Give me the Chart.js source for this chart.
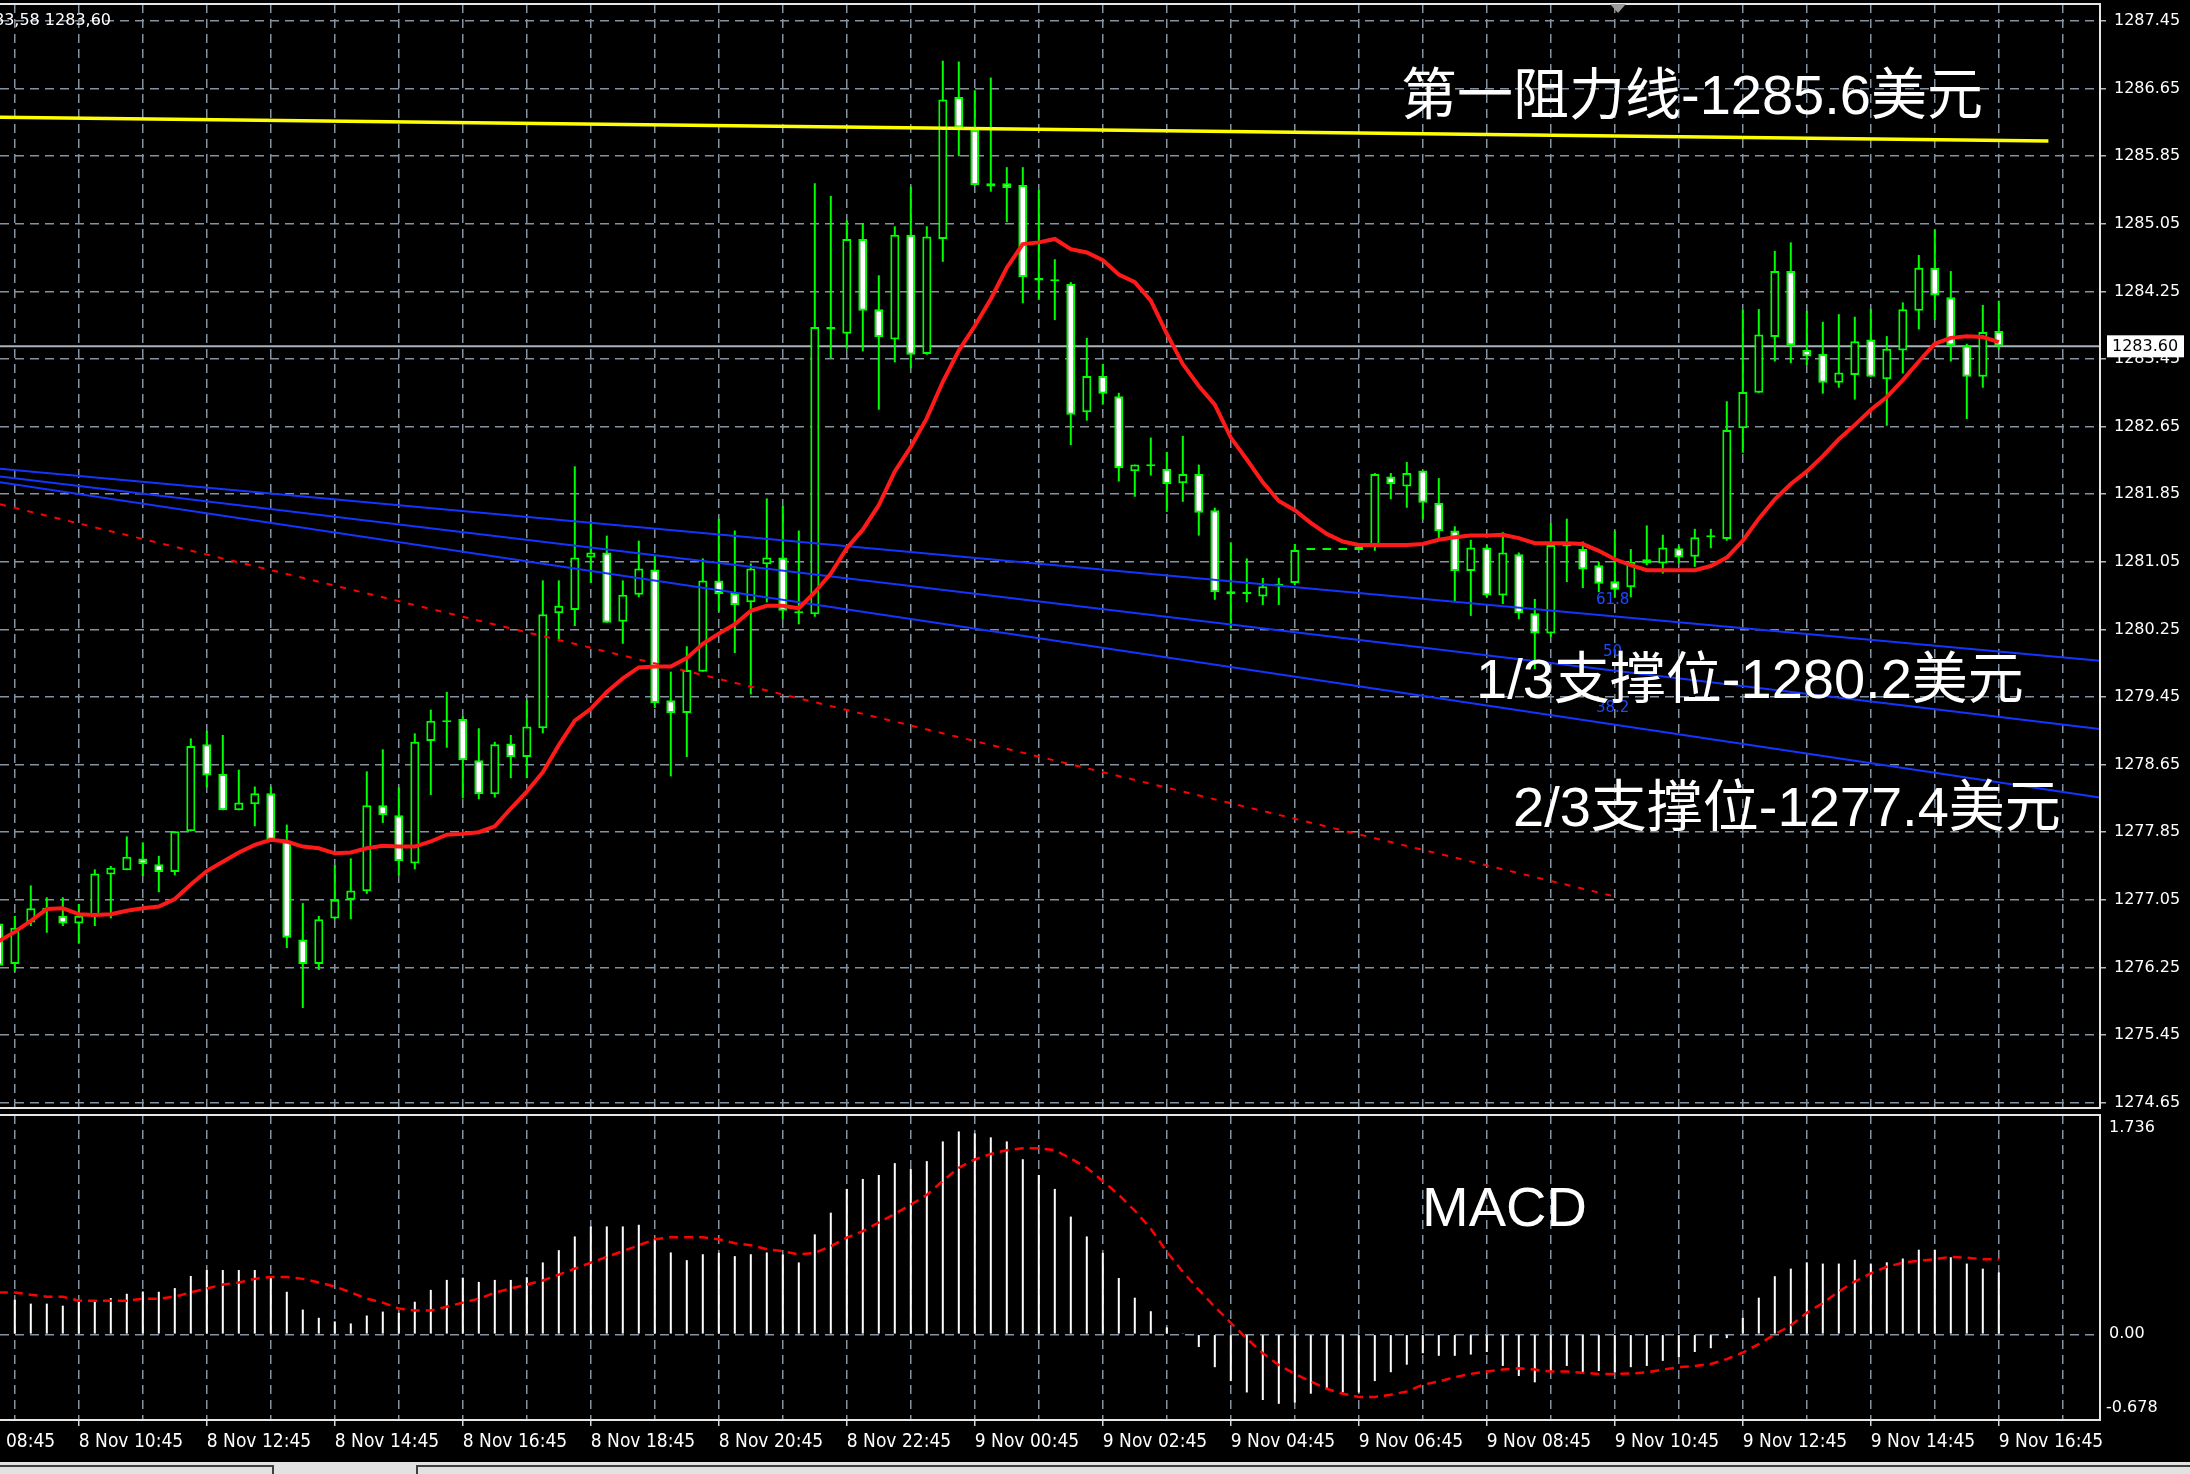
<!DOCTYPE html>
<html>
<head>
<meta charset="utf-8">
<title>XAUUSD M15</title>
<script src="https://cdn.jsdelivr.net/npm/chart.js@4.4.0/dist/chart.umd.min.js"></script>
<style>
  html, body { margin: 0; padding: 0; background: #000; width: 2190px; height: 1474px; overflow: hidden; }
  #priceChart { position: absolute; left: 0; top: 0; }
  #macdChart { position: absolute; left: 0; top: 1110px; }
</style>
</head>
<body>
<canvas id="priceChart" width="2190" height="1112"></canvas>
<canvas id="macdChart" width="2190" height="364"></canvas>
<script>
// 15 minute candles, index 0 = 8 Nov 09:30, index 125 = 9 Nov 16:45
const opens = [1276.77,1276.29,1276.78,1276.93,1276.86,1276.77,1276.86,1277.35,1277.40,1277.54,
  1277.47,1277.38,1277.86,1278.89,1278.54,1278.11,1278.18,1278.31,1277.74,1276.58,
  1276.29,1276.83,1277.05,1277.15,1278.17,1278.05,1277.48,1278.93,1279.15,1279.19,
  1278.70,1278.30,1278.90,1278.74,1279.08,1280.44,1280.48,1281.10,1281.16,1280.34,
  1280.66,1280.96,1279.41,1279.26,1279.75,1280.83,1280.68,1280.57,1281.02,1281.10,
  1280.44,1280.43,1283.83,1283.75,1284.87,1284.04,1283.68,1284.92,1283.51,1284.87,
  1286.55,1286.16,1285.49,1285.53,1285.51,1284.41,1284.37,1284.34,1282.82,1283.25,
  1283.01,1282.12,1282.18,1282.15,1281.98,1282.09,1281.66,1280.70,1280.67,1280.64,
  1280.76,1280.80,1281.19,1281.19,1281.19,1281.19,1281.25,1282.06,1281.94,1282.13,
  1281.75,1281.42,1280.94,1281.22,1280.65,1281.14,1280.44,1280.20,1281.23,1281.20,
  1281.01,1280.82,1280.75,1281.08,1281.03,1281.21,1281.11,1281.34,1281.32,1282.63,
  1283.05,1283.71,1284.49,1283.56,1283.51,1283.17,1283.26,1283.68,1283.21,1283.55,
  1284.02,1284.53,1284.18,1283.61,1283.24,1283.78];
const highs = [1276.82,1276.86,1277.22,1277.08,1277.08,1277.00,1277.41,1277.45,1277.80,1277.73,
  1277.57,1277.86,1278.96,1279.05,1279.00,1278.59,1278.39,1278.39,1277.94,1277.01,
  1276.86,1277.46,1277.54,1278.57,1278.83,1278.38,1279.02,1279.30,1279.51,1279.22,
  1279.08,1278.92,1279.00,1279.41,1280.83,1280.83,1282.18,1281.53,1281.36,1280.83,
  1281.30,1281.13,1279.75,1280.05,1281.09,1281.56,1281.42,1281.03,1281.80,1281.71,
  1281.42,1285.53,1285.38,1285.09,1285.06,1284.44,1285.02,1285.49,1285.02,1286.98,
  1286.97,1286.63,1286.78,1285.72,1285.72,1285.45,1284.63,1284.36,1283.70,1283.39,
  1283.05,1282.20,1282.52,1282.35,1282.54,1282.20,1281.69,1281.28,1281.09,1280.86,
  1280.86,1281.26,1281.19,1281.19,1281.19,1281.23,1282.10,1282.10,1282.23,1282.13,
  1282.04,1281.47,1281.31,1281.25,1281.40,1281.16,1280.61,1281.51,1281.56,1281.29,
  1281.05,1281.42,1281.20,1281.48,1281.37,1281.24,1281.44,1281.44,1282.95,1284.03,
  1284.04,1284.73,1284.83,1284.02,1283.89,1283.98,1283.95,1284.04,1283.72,1284.12,
  1284.68,1284.98,1284.49,1283.63,1284.09,1284.14];
const lows = [1276.14,1276.20,1276.74,1276.66,1276.74,1276.53,1276.74,1276.83,1277.40,1277.33,
  1277.14,1277.34,1277.86,1278.38,1278.11,1278.11,1277.92,1277.76,1276.48,1275.77,
  1276.22,1276.82,1276.82,1277.12,1277.96,1277.34,1277.41,1278.29,1278.85,1278.25,
  1278.24,1278.26,1278.49,1278.49,1279.02,1280.11,1280.29,1280.80,1280.33,1280.08,
  1280.63,1279.32,1278.51,1278.74,1279.75,1280.46,1279.97,1279.48,1280.57,1280.37,
  1280.31,1280.40,1283.46,1283.57,1283.54,1282.85,1283.41,1283.34,1283.50,1284.60,
  1285.85,1285.50,1285.43,1285.07,1284.11,1284.15,1283.91,1282.43,1282.72,1282.91,
  1282.00,1281.82,1282.07,1281.64,1281.76,1281.36,1280.60,1280.26,1280.57,1280.54,
  1280.54,1280.77,1281.19,1281.19,1281.19,1281.19,1281.18,1281.79,1281.69,1281.55,
  1281.33,1280.57,1280.41,1280.63,1280.55,1280.37,1279.78,1280.16,1280.81,1280.74,
  1280.69,1280.63,1280.63,1281.01,1280.91,1281.03,1280.99,1281.21,1281.30,1282.34,
  1283.05,1283.42,1283.40,1283.38,1283.04,1283.11,1282.97,1283.24,1282.66,1283.28,
  1283.80,1283.91,1283.42,1282.74,1283.11,1283.56];
const closes = [1276.27,1276.72,1276.95,1276.95,1276.77,1276.86,1277.36,1277.43,1277.56,1277.47,
  1277.38,1277.86,1278.87,1278.52,1278.11,1278.20,1278.31,1277.76,1276.60,1276.29,
  1276.82,1277.05,1277.16,1278.17,1278.05,1277.51,1278.92,1279.17,1279.16,1278.70,
  1278.30,1278.89,1278.74,1279.10,1280.43,1280.53,1281.10,1281.16,1280.33,1280.66,
  1280.97,1279.38,1279.26,1279.77,1280.83,1280.67,1280.54,1280.97,1281.10,1280.47,
  1280.45,1283.83,1283.80,1284.87,1284.02,1283.71,1284.92,1283.50,1284.90,1286.52,
  1286.19,1285.51,1285.53,1285.47,1284.42,1284.38,1284.38,1282.79,1283.25,1283.04,
  1282.16,1282.20,1282.19,1281.97,1282.09,1281.63,1280.69,1280.67,1280.68,1280.76,
  1280.79,1281.19,1281.19,1281.19,1281.19,1281.23,1282.09,1281.97,1282.10,1281.75,
  1281.41,1280.94,1281.22,1280.65,1281.16,1280.44,1280.20,1281.25,1281.25,1280.96,
  1280.79,1280.72,1281.05,1281.03,1281.22,1281.10,1281.34,1281.35,1282.61,1283.06,
  1283.74,1284.49,1283.61,1283.48,1283.17,1283.29,1283.66,1283.24,1283.57,1284.04,
  1284.53,1284.20,1283.61,1283.24,1283.77,1283.60];

// red moving average
const maValues = [1276.56,1276.67,1276.80,1276.94,1276.95,1276.88,1276.87,1276.88,1276.92,1276.95,
  1276.97,1277.06,1277.23,1277.39,1277.50,1277.61,1277.70,1277.76,1277.74,1277.68,
  1277.66,1277.60,1277.61,1277.66,1277.69,1277.68,1277.68,1277.74,1277.82,1277.83,
  1277.85,1277.92,1278.13,1278.33,1278.56,1278.88,1279.17,1279.31,1279.51,1279.67,
  1279.80,1279.81,1279.81,1279.91,1280.08,1280.20,1280.31,1280.47,1280.53,1280.53,
  1280.50,1280.69,1280.91,1281.21,1281.43,1281.72,1282.12,1282.41,1282.75,1283.18,
  1283.55,1283.84,1284.16,1284.53,1284.81,1284.83,1284.87,1284.75,1284.71,1284.62,
  1284.45,1284.36,1284.14,1283.75,1283.39,1283.13,1282.91,1282.52,1282.26,1281.99,
  1281.77,1281.66,1281.51,1281.38,1281.29,1281.25,1281.25,1281.25,1281.25,1281.26,
  1281.31,1281.34,1281.36,1281.36,1281.37,1281.33,1281.27,1281.27,1281.27,1281.26,
  1281.18,1281.08,1281.01,1280.95,1280.95,1280.95,1280.95,1281.00,1281.10,1281.30,
  1281.56,1281.79,1281.97,1282.12,1282.30,1282.50,1282.67,1282.85,1283.00,1283.20,
  1283.42,1283.63,1283.70,1283.72,1283.71,1283.65];

// MACD histogram and signal
const macdHist = [0.243,0.274,0.243,0.243,0.227,0.274,0.261,0.287,0.321,0.339,
  0.337,0.366,0.462,0.509,0.509,0.509,0.509,0.457,0.337,0.196,
  0.131,0.102,0.086,0.149,0.180,0.170,0.258,0.352,0.431,0.449,
  0.415,0.431,0.431,0.452,0.569,0.666,0.775,0.854,0.854,0.854,
  0.867,0.757,0.648,0.587,0.634,0.645,0.619,0.634,0.648,0.632,
  0.569,0.791,0.963,1.151,1.230,1.261,1.355,1.308,1.371,1.527,
  1.606,1.590,1.559,1.527,1.386,1.261,1.151,0.932,0.775,0.645,
  0.446,0.290,0.183,0.055,0.008,-0.10,-0.26,-0.37,-0.46,-0.52,
  -0.55,-0.54,-0.47,-0.43,-0.46,-0.46,-0.37,-0.30,-0.24,-0.15,
  -0.17,-0.17,-0.16,-0.14,-0.25,-0.33,-0.38,-0.29,-0.25,-0.30,
  -0.29,-0.30,-0.26,-0.25,-0.21,-0.18,-0.14,-0.11,-0.03,0.13,
  0.29,0.46,0.52,0.57,0.56,0.56,0.59,0.56,0.57,0.60,
  0.67,0.67,0.61,0.56,0.52,0.49];
const macdSignal = [0.332,0.332,0.313,0.298,0.298,0.266,0.266,0.266,0.266,0.282,
  0.282,0.298,0.332,0.363,0.394,0.410,0.439,0.454,0.454,0.439,
  0.410,0.379,0.332,0.282,0.251,0.204,0.188,0.188,0.219,0.251,
  0.282,0.329,0.363,0.394,0.426,0.473,0.520,0.567,0.614,0.658,
  0.705,0.752,0.768,0.768,0.768,0.752,0.721,0.705,0.674,0.658,
  0.632,0.645,0.697,0.765,0.817,0.885,0.953,1.026,1.104,1.214,
  1.318,1.384,1.428,1.457,1.473,1.473,1.457,1.392,1.318,1.214,
  1.104,0.979,0.836,0.653,0.496,0.352,0.217,0.091,-0.034,-0.149,
  -0.243,-0.313,-0.373,-0.431,-0.470,-0.496,-0.496,-0.478,-0.452,-0.399,
  -0.373,-0.339,-0.313,-0.295,-0.279,-0.269,-0.279,-0.295,-0.295,-0.305,
  -0.313,-0.313,-0.31,-0.30,-0.28,-0.26,-0.25,-0.235,-0.196,-0.144,
  -0.078,0.0,0.07,0.17,0.248,0.339,0.418,0.483,0.535,0.567,
  0.582,0.595,0.614,0.606,0.595,0.595];

// drawn objects: [candle index, price]
const resistLine = [[0.075, 1286.31], [128.1, 1286.03]];
const channelTop = [[0.075, 1282.15], [131.3, 1279.88]];
const channelMid = [[0.075, 1282.06], [131.3, 1279.07]];
const channelLow = [[0.075, 1281.99], [131.3, 1278.26]];
const redTrend = [[0.075, 1281.73], [101.2, 1277.08]];
const lastPrice = 1283.60;

// axes
const priceTicks = [1274.65,1275.45,1276.25,1277.05,1277.85,1278.65,1279.45,1280.25,1281.05,1281.85,
  1282.65,1283.45,1284.25,1285.05,1285.85,1286.65,1287.45];
const labelIdx = [-3,5,13,21,29,37,45,53,61,69,77,85,93,101,109,117,125];
const timeLabels = ['8 Nov 08:45','8 Nov 10:45','8 Nov 12:45','8 Nov 14:45','8 Nov 16:45','8 Nov 18:45',
  '8 Nov 20:45','8 Nov 22:45','9 Nov 00:45','9 Nov 02:45','9 Nov 04:45','9 Nov 06:45','9 Nov 08:45',
  '9 Nov 10:45','9 Nov 12:45','9 Nov 14:45','9 Nov 16:45'];
const macdLabelVals = [1.736, 0, -0.678];
const macdLabels = ['1.736', '0.00', '-0.678'];

const xMin = 0.075;
const xMax = 131.325;
const priceMin = 1274.586;
const priceMax = 1287.651;
const gridColor = '#8593a1';
const green = '#00ff00';
const bigFont = '56px "Liberation Sans", "Noto Sans CJK SC", sans-serif';
const axisFont = '16px "DejaVu Sans", sans-serif';
const timeFontFamily = "'DejaVu Sans Condensed', 'Liberation Sans Narrow', 'DejaVu Sans', sans-serif";

let gridHours = [];
for (let i = 1; i <= 129; i += 4) {
  gridHours.push(i);
}

const toPoints = (arr) => arr.map((p) => ({ x: p[0], y: p[1] }));

const noPadding = (scale) => {
  scale.paddingTop = 0;
  scale.paddingBottom = 0;
};

const priceOverlay = {
  id: "priceOverlay",
  afterDraw(chart) {
    const { ctx, chartArea, scales } = chart;
    ctx.save();
    ctx.strokeStyle = "#e6e6e6";
    ctx.lineWidth = 2;
    ctx.beginPath();
    ctx.moveTo(0, chartArea.top);
    ctx.lineTo(chartArea.right, chartArea.top);
    ctx.lineTo(chartArea.right, chartArea.bottom);
    ctx.lineTo(0, chartArea.bottom);
    ctx.stroke();

    // shift marker
    ctx.fillStyle = "#9a9a9a";
    ctx.beginPath();
    ctx.moveTo(1610, chartArea.top);
    ctx.lineTo(1626, chartArea.top);
    ctx.lineTo(1618, chartArea.top + 9);
    ctx.fill();

    // last price box
    const py = scales.y.getPixelForValue(lastPrice);
    ctx.fillStyle = "#ffffff";
    ctx.fillRect(chartArea.right + 7, py - 11, 77, 22);
    ctx.fillStyle = "#000000";
    ctx.font = axisFont;
    ctx.textBaseline = "middle";
    ctx.textAlign = "left";
    ctx.fillText(lastPrice.toFixed(2), chartArea.right + 12, py + 1);

    // top left info
    ctx.fillStyle = "#ffffff";
    ctx.textAlign = "right";
    ctx.fillText("1283,58 1283,60", 111, 21);

    // fibo levels
    ctx.textAlign = "left";
    ctx.font = '15px "DejaVu Sans", sans-serif';
    ctx.fillStyle = "#2048ff";
    ctx.fillText("61.8", 1596, 600);
    ctx.fillText("50", 1603, 652);
    ctx.fillText("38.2", 1596, 708);

    // annotations
    ctx.font = bigFont;
    ctx.fillStyle = "#ffffff";
    ctx.textBaseline = "alphabetic";
    ctx.fillText("第一阻力线-1285.6美元", 1401, 114);
    ctx.fillText("1/3支撑位-1280.2美元", 1476, 698);
    ctx.fillText("2/3支撑位-1277.4美元", 1513, 826);
    ctx.restore();
  },
};

const macdOverlay = {
  id: "macdOverlay",
  afterDraw(chart) {
    const { ctx, chartArea, scales, height } = chart;
    ctx.save();
    ctx.strokeStyle = "#e6e6e6";
    ctx.lineWidth = 2;
    ctx.beginPath();
    ctx.moveTo(0, chartArea.top);
    ctx.lineTo(chartArea.right, chartArea.top);
    ctx.lineTo(chartArea.right, chartArea.bottom);
    ctx.lineTo(0, chartArea.bottom);
    ctx.stroke();

    ctx.font = bigFont;
    ctx.fillStyle = "#ffffff";
    ctx.fillText("MACD", 1422, 116);

    // first time label sits left of the axis start, only its tail shows
    ctx.font = "19px " + timeFontFamily;
    ctx.textAlign = "left";
    ctx.textBaseline = "middle";
    ctx.fillText(timeLabels[0], scales.x.getPixelForValue(labelIdx[0]), chartArea.bottom + 22);

    ctx.font = axisFont;
    const offsets = [13, 0, -12];
    for (let i = 0; i < macdLabels.length; i++) {
      const y = scales.y.getPixelForValue(macdLabelVals[i]) + offsets[i];
      ctx.fillText(macdLabels[i], chartArea.right + (i === 2 ? 6 : 9), y);
    }

    // tab strip at the bottom
    ctx.fillStyle = "#e2e2e2";
    ctx.fillRect(0, height - 12, 2190, 12);
    ctx.fillStyle = "#404040";
    ctx.fillRect(0, height - 9, 273, 2);
    ctx.fillRect(417, height - 9, 1773, 2);
    ctx.fillRect(272, height - 9, 2, 9);
    ctx.fillRect(416, height - 9, 2, 9);
    ctx.restore();
  },
};

const displayPriceChart = () => {
  const ctx = document.getElementById("priceChart").getContext("2d");
  const idx = opens.map((_, i) => i);
  return new Chart(ctx, {
    type: "bar",
    data: {
      datasets: [
        { type: "line", data: idx.map((i) => ({ x: i, y: maValues[i] })), borderColor: "#ff1a1a", borderWidth: 4, pointRadius: 0, tension: 0, order: 0 },
        { type: "line", data: toPoints(resistLine), borderColor: "#ffff00", borderWidth: 3.5, pointRadius: 0, order: 1 },
        { type: "line", data: toPoints(channelTop), borderColor: "#1535ff", borderWidth: 2, pointRadius: 0, order: 1 },
        { type: "line", data: toPoints(channelMid), borderColor: "#1535ff", borderWidth: 2, pointRadius: 0, order: 1 },
        { type: "line", data: toPoints(channelLow), borderColor: "#1535ff", borderWidth: 2, pointRadius: 0, order: 1 },
        { type: "line", data: toPoints(redTrend), borderColor: "#ff0000", borderWidth: 2, borderDash: [6, 8], pointRadius: 0, order: 1 },
        {
          type: "bar",
          data: idx.map((i) => ({ x: i, y: [opens[i], closes[i]] })),
          backgroundColor: idx.map((i) => (closes[i] >= opens[i] ? "#000000" : "#ffffff")),
          borderColor: green,
          borderWidth: 2,
          borderSkipped: false,
          barThickness: 9,
          minBarLength: 2,
          inflateAmount: 0,
          grouped: false,
          order: 2,
        },
        {
          type: "bar",
          data: idx.map((i) => ({ x: i, y: [lows[i], highs[i]] })),
          backgroundColor: green,
          borderWidth: 0,
          barThickness: 2,
          inflateAmount: 0,
          grouped: false,
          order: 3,
        },
        { type: "line", data: [{ x: xMin, y: lastPrice }, { x: xMax, y: lastPrice }], borderColor: "#a9b3bd", borderWidth: 2, pointRadius: 0, order: 4 },
      ],
    },
    options: {
      responsive: false,
      animation: false,
      devicePixelRatio: 1,
      layout: { padding: { top: 4, bottom: 4, left: 0, right: 0 } },
      plugins: { legend: { display: false }, tooltip: { enabled: false } },
      scales: {
        x: {
          type: "linear",
          min: xMin,
          max: xMax,
          offset: false,
          bounds: "data",
          ticks: { display: false },
          grid: { color: gridColor, lineWidth: 1.5, drawTicks: false, offset: false },
          border: { display: false, dash: [9, 6] },
          afterBuildTicks: (scale) => {
            scale.ticks = gridHours.map((v) => ({ value: v }));
          },
          afterFit: (scale) => {
            scale.height = 0;
          },
        },
        y: {
          position: "right",
          min: priceMin,
          max: priceMax,
          beginAtZero: false,
          bounds: "data",
          ticks: { color: "#ffffff", font: { family: "DejaVu Sans", size: 16 }, padding: 8, callback: (v) => v.toFixed(2) },
          grid: { color: gridColor, lineWidth: 1.5, tickLength: 6, tickColor: "#b0b8c0" },
          border: { display: false, dash: [9, 6] },
          afterBuildTicks: (scale) => {
            scale.ticks = priceTicks.map((v) => ({ value: v }));
          },
          afterFit: (scale) => {
            scale.width = 90;
            noPadding(scale);
          },
        },
      },
    },
    plugins: [priceOverlay],
  });
};

const displayMacdChart = () => {
  const ctx = document.getElementById("macdChart").getContext("2d");
  return new Chart(ctx, {
    type: "bar",
    data: {
      datasets: [
        { type: "line", data: macdSignal.map((v, i) => ({ x: i, y: v })), borderColor: "#ff0000", borderWidth: 2.5, borderDash: [9, 6], pointRadius: 0, order: 0 },
        { type: "bar", data: macdHist.map((v, i) => ({ x: i, y: v })), backgroundColor: "#ffffff", barThickness: 2, inflateAmount: 0, grouped: false, order: 1 },
      ],
    },
    options: {
      responsive: false,
      animation: false,
      devicePixelRatio: 1,
      layout: { padding: { top: 5, bottom: 12, left: 0, right: 0 } },
      plugins: { legend: { display: false }, tooltip: { enabled: false } },
      scales: {
        x: {
          type: "linear",
          min: xMin,
          max: xMax,
          offset: false,
          bounds: "data",
          ticks: {
            color: "#ffffff",
            font: { family: timeFontFamily, size: 19 },
            align: "start",
            maxRotation: 0,
            autoSkip: false,
            padding: 5,
            callback: (v) => {
              const k = labelIdx.indexOf(v);
              return k >= 0 ? timeLabels[k] : "";
            },
          },
          grid: {
            color: gridColor,
            lineWidth: 1.5,
            offset: false,
            tickLength: 6,
            tickColor: (c) => (c.tick && labelIdx.includes(c.tick.value) ? "#d8d8d8" : "rgba(0,0,0,0)"),
          },
          border: { display: false, dash: [9, 6] },
          afterBuildTicks: (scale) => {
            scale.ticks = gridHours.map((v) => ({ value: v }));
          },
          afterFit: (scale) => {
            scale.height = 42;
            scale.paddingLeft = 0;
            scale.paddingRight = 0;
          },
        },
        y: {
          position: "right",
          min: -0.678,
          max: 1.736,
          beginAtZero: false,
          ticks: { display: false },
          grid: { color: gridColor, lineWidth: 1.5, drawTicks: false },
          border: { display: false, dash: [9, 6] },
          afterBuildTicks: (scale) => {
            scale.ticks = [{ value: 0 }];
          },
          afterFit: (scale) => {
            scale.width = 90;
            noPadding(scale);
          },
        },
      },
    },
    plugins: [macdOverlay],
  });
};

const init = () => {
  displayPriceChart();
  displayMacdChart();
};

init();
</script>
</body>
</html>
